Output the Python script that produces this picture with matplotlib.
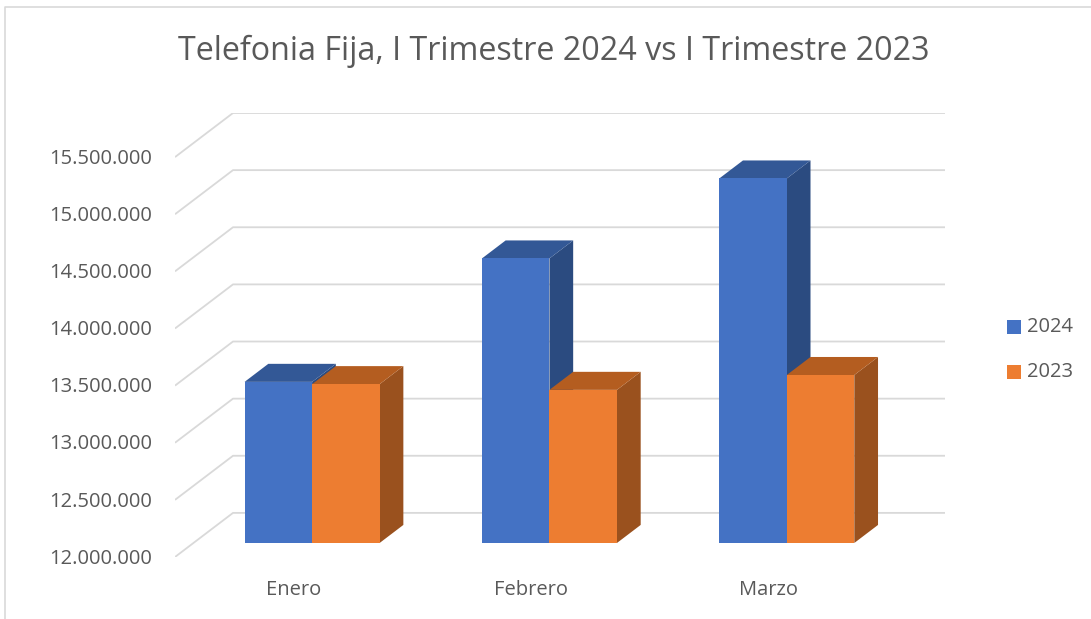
import matplotlib
matplotlib.use("Agg")
import matplotlib.pyplot as plt
from matplotlib.patches import Polygon, Rectangle
from matplotlib.lines import Line2D

title = "Telefonia Fija, I Trimestre 2024 vs I Trimestre 2023"
categories = ["Enero", "Febrero", "Marzo"]
series_names = ["2024", "2023"]
values_2024 = [13410000, 14490000, 15190000]
values_2023 = [13390000, 13340000, 13470000]
ticks = [12000000, 12500000, 13000000, 13500000, 14000000, 14500000, 15000000, 15500000]

def fmt(v):
    return f"{v:,}".replace(",", ".")

W, H = 1091, 619
fig = plt.figure(figsize=(W / 100, H / 100), dpi=100)

# oblique 3D projection parameters (data units)
DX = 0.2444          # x shift for full depth (categories)
DY = 386000          # y shift for full depth (values)
ymin, ymax = ticks[0], ticks[-1]
xmax = len(categories) + DX

ax = fig.add_axes([175 / W, (H - 557) / H, 770 / W, 444 / H])
ax.set_xlim(0, xmax)
ax.set_ylim(ymin, ymax + DY)
ax.axis("off")

grid_c = "#D9D9D9"
for t in ticks:
    ax.plot([0, DX, xmax], [t, t + DY, t + DY], color=grid_c, lw=1.3,
            solid_capstyle="butt", zorder=1)

front_cols = ["#4472C4", "#ED7D31"]
top_cols = ["#335896", "#B45D20"]
side_cols = ["#2B4B80", "#9A511E"]

d0, d1 = 0.318, 0.727
bw = 0.2845
series = [values_2024, values_2023]
z = 2
for i, cat in enumerate(categories):
    for s, vals in enumerate(series):
        v = vals[i]
        xl = i + 0.5 - bw + s * bw
        xr = xl + bw
        fx0, fx1 = xl + d0 * DX, xr + d0 * DX
        bx0, bx1 = xl + d1 * DX, xr + d1 * DX
        fyb, fyt = ymin + d0 * DY, v + d0 * DY
        byb, byt = ymin + d1 * DY, v + d1 * DY
        side = Polygon([(fx1, fyb), (bx1, byb), (bx1, byt), (fx1, fyt)],
                       closed=True, fc=side_cols[s], ec="none", zorder=z)
        top = Polygon([(fx0, fyt), (bx0, byt), (bx1, byt), (fx1, fyt)],
                      closed=True, fc=top_cols[s], ec="none", zorder=z)
        front = Polygon([(fx0, fyb), (fx1, fyb), (fx1, fyt), (fx0, fyt)],
                        closed=True, fc=front_cols[s], ec="none", zorder=z)
        for p in (side, top, front):
            ax.add_patch(p)
        z += 1

font = "Open Sans"
txt_c = "#595959"
for t in ticks:
    ax.text(-0.095, t - 15000, fmt(t), ha="right", va="center", fontsize=14.5,
            color=txt_c, family=font)
for i, cat in enumerate(categories):
    ax.text(i + 0.5, ymin - 290000, cat, ha="center", va="center",
            fontsize=14.5, color=txt_c, family=font)

fig.text(554 / W, 1 - 51 / H, title, ha="center", va="center",
         fontsize=23.2, color=txt_c, family="Open Sans")

# legend
for k, name in enumerate(series_names):
    yk = 327 + k * 45
    fig.patches.append(Rectangle(((1007) / W, 1 - (yk + 7) / H), 14 / W, 14 / H,
                                 transform=fig.transFigure, fc=front_cols[k],
                                 ec="none"))
    fig.text(1027 / W, 1 - yk / H, name, ha="left", va="center",
             fontsize=14.5, color=txt_c, family=font)

# chart border
fig.lines.append(Line2D([5 / W, 5 / W, 1.0], [0, 1 - 7 / H, 1 - 7 / H],
                        transform=fig.transFigure, color="#D9D9D9", lw=1.2))

fig.savefig("out.png", dpi=100)
